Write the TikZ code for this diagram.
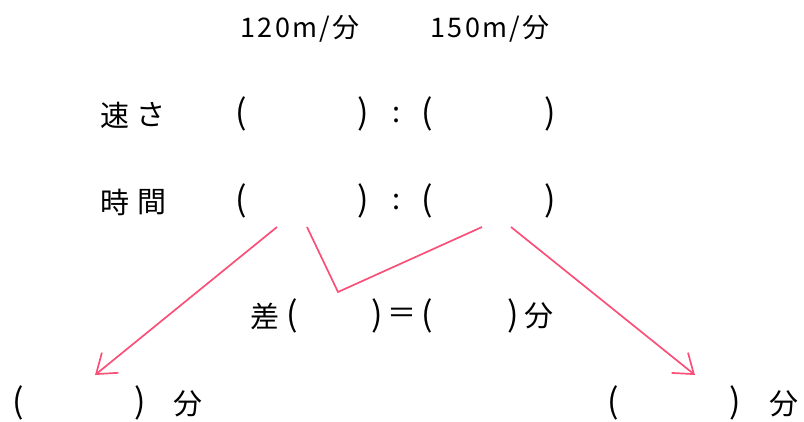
\documentclass[tikz,border=0pt]{standalone}
\usepackage{fontspec}
\newfontfamily\jp{Noto Sans CJK JP}
\usetikzlibrary{arrows.meta}
\definecolor{pinkred}{RGB}{250,80,120}
\tikzset{
  t/.style={inner sep=0pt, anchor=center, font=\jp\fontsize{29}{29}\selectfont},
  tsp/.style={inner sep=0pt, anchor=center, font=\jp\fontsize{27}{27}\selectfont\addfontfeature{LetterSpace=8}},
  par/.style={inner sep=0pt, anchor=center, font=\jp\fontsize{34}{34}\selectfont},
  red/.style={draw=pinkred, line width=1.7pt},
  arr/.style={red, -{Straight Barb[length=18pt,width=26pt,line width=1.7pt]}}
}
\begin{document}
\begin{tikzpicture}[x=1pt,y=-1pt]
\useasboundingbox (0,0) rectangle (804,421);
% top labels
\node[tsp] (s1) at (300,29) {120m/分};
\node[tsp] (s2) at (490,29) {150m/分};
% row 1
\node[t] (ha) at (115,115) {速};
\node[t] (sa) at (151,115) {さ};
\node[par] (p1a) at (241,114) {(};
\node[par] (p1b) at (363,114) {)};
\node[t] (c1) at (397,115) {:};
\node[par] (p1c) at (427,114) {(};
\node[par] (p1d) at (550,114) {)};
% row 2
\node[t] (ji) at (115,202) {時};
\node[t] (ka) at (152,202) {間};
\node[par] (p2a) at (241,201) {(};
\node[par] (p2b) at (363,201) {)};
\node[t] (c2) at (397,202) {:};
\node[par] (p2c) at (427,201) {(};
\node[par] (p2d) at (550,201) {)};
% row 3
\node[t] (sa3) at (265,316) {差};
\node[par] (p3a) at (292,316) {(};
\node[par] (p3b) at (377,316) {)};
\node[t] (eq) at (402,316) {＝};
\node[par] (p3c) at (427,316) {(};
\node[par] (p3d) at (513,316) {)};
\node[t] (f3) at (539,316) {分};
% bottom
\node[par] (bl1) at (18,403) {(};
\node[par] (bl2) at (140,403) {)};
\node[t] (blf) at (188,404) {分};
\node[par] (br1) at (613,403) {(};
\node[par] (br2) at (735,403) {)};
\node[t] (brf) at (784,404) {分};
% connectors
\coordinate (a1s) at (277,227);
\coordinate (a1e) at (95,375);
\coordinate (vs) at (307,227);
\coordinate (vb) at (338,292);
\coordinate (ve) at (482,227);
\coordinate (a2s) at (511,227);
\coordinate (a2e) at (695,375);
\draw[arr] (a1s) -- (a1e);
\draw[red] (vs) -- (vb) -- (ve);
\draw[arr] (a2s) -- (a2e);
\end{tikzpicture}
\end{document}
